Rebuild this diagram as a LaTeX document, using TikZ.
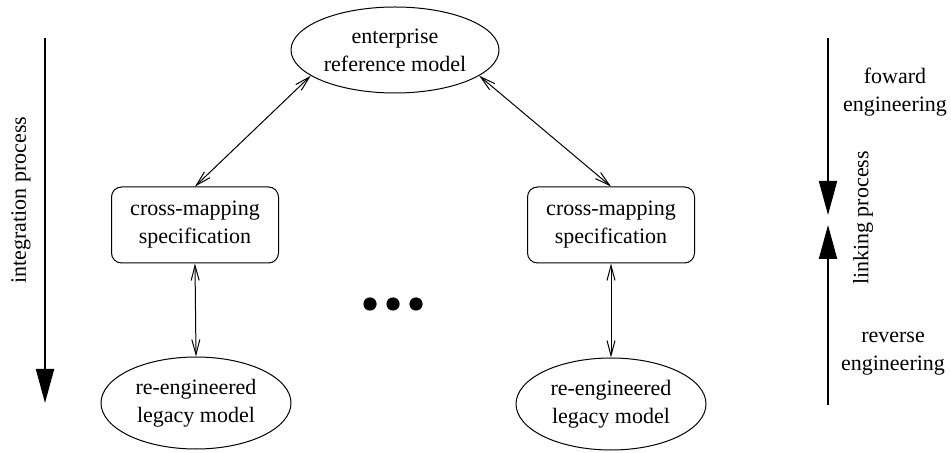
\documentclass[tikz,border=0pt]{standalone}
\usepackage{fontspec}
\setmainfont{Liberation Serif}
\usetikzlibrary{shapes.geometric,arrows.meta}

\tikzset{
  axis/.style={line width=1pt,-{Triangle[length=17pt,width=9pt]}},
  link/.style={line width=0.5pt,{Straight Barb[length=7.5pt,width=4pt]}-{Straight Barb[length=7.5pt,width=4pt]}}
}

\begin{document}
\begin{tikzpicture}[x=0.5pt,y=-0.5pt,font=\fontsize{11}{14}\selectfont]

  \useasboundingbox (0,0) rectangle (951,453);

  \begin{scope}[every node/.style={ellipse,draw,line width=0.5pt,align=center,inner sep=0pt}]
    \node[minimum width=104pt,minimum height=43pt] (erm) at (395,50) {enterprise\\reference model};
    \node[minimum width=95pt,minimum height=46pt] (lm1) at (196,403) {re-engineered\\legacy model};
    \node[minimum width=95pt,minimum height=46pt] (lm2) at (611,404) {re-engineered\\legacy model};
  \end{scope}

  \begin{scope}[every node/.style={rectangle,rounded corners=5pt,draw,line width=0.5pt,align=center,minimum width=83.5pt,minimum height=38pt}]
    \node (cm1) at (195,225) {cross-mapping\\specification};
    \node (cm2) at (611,225) {cross-mapping\\specification};
  \end{scope}

  \begin{scope}[every edge/.style={draw,link}]
    \path (erm.197) edge (cm1.north);
    \path (erm.343) edge (cm2.north);
    \path (cm1.south) edge (lm1.north);
    \path (cm2.south) edge (lm2.north);
  \end{scope}

  \foreach \x in {370,393,416}
    \fill (\x,304) circle (3.3pt);

  % process arrows
  \coordinate (ip1) at (45,38);
  \coordinate (ip2) at (45,403);
  \draw[axis] (ip1) -- (ip2);
  \node[rotate=90] (ip) at (21,200) {integration process};

  \coordinate (fe1) at (828,38);
  \coordinate (fe2) at (828,215);
  \coordinate (re1) at (828,405);
  \coordinate (re2) at (828,225);
  \draw[axis] (fe1) -- (fe2);
  \draw[axis] (re1) -- (re2);
  \node[rotate=90] (lp) at (863,218) {linking process};
  \node[align=center] (fe) at (895,92) {foward\\engineering};
  \node[align=center] (re) at (893,354) {reverse\\engineering};

\end{tikzpicture}
\end{document}
